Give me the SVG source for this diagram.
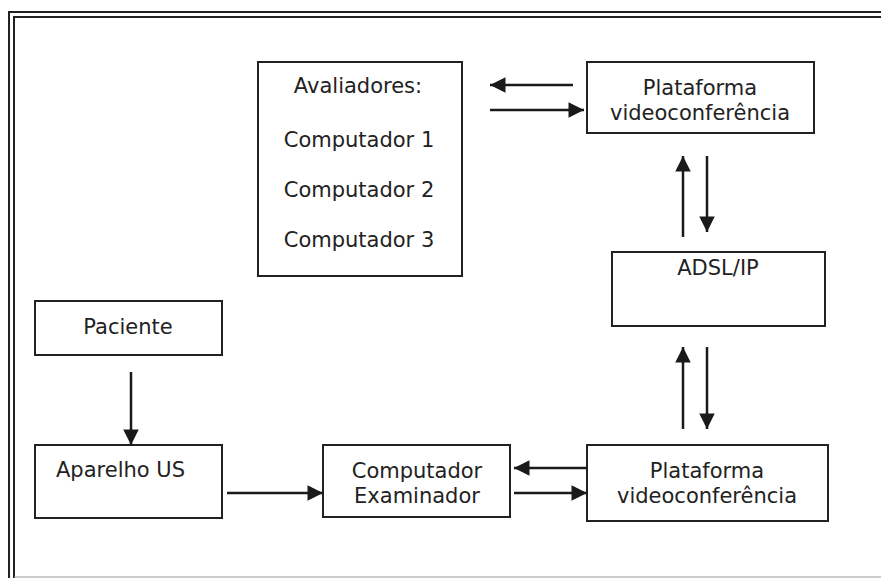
<svg xmlns="http://www.w3.org/2000/svg" width="881" height="578" viewBox="0 0 881 578">
<style>
.box{fill:#fff;stroke:#222;stroke-width:2}
.lbl{font-family:"DejaVu Sans",Verdana,sans-serif;font-size:21px;fill:#222;text-anchor:middle}
.frame{fill:none;stroke:#222;stroke-width:2}
.conn line{stroke:#1a1a1a;stroke-width:2.5}
</style>
<defs>
<marker id="ah" viewBox="0 0 10 10" refX="10" refY="5" markerWidth="6.6" markerHeight="6.2" markerUnits="strokeWidth" orient="auto">
<path d="M0,0 L10,5 L0,10 Z" fill="#1a1a1a"/>
</marker>
</defs>
<rect width="881" height="578" fill="#fff"/>
<g id="frame">
<path class="frame" d="M9,578 V12 H881"/>
<path class="frame" d="M14,578 V17 H881"/>
<line x1="14" y1="577" x2="881" y2="577" stroke="#999" stroke-width="1"/>
</g>
<g id="avaliadores">
<rect class="box" x="258" y="62" width="204" height="214"/>
<text class="lbl" x="358" y="93">Avaliadores:</text>
<text class="lbl" x="359" y="147">Computador 1</text>
<text class="lbl" x="359" y="197">Computador 2</text>
<text class="lbl" x="359" y="247">Computador 3</text>
</g>
<g id="plataforma1">
<rect class="box" x="587" y="62" width="227" height="71"/>
<text class="lbl" x="700" y="95">Plataforma</text>
<text class="lbl" x="700" y="120">videoconferência</text>
</g>
<g id="adsl">
<rect class="box" x="612" y="252" width="213" height="74"/>
<text class="lbl" x="718" y="275">ADSL/IP</text>
</g>
<g id="paciente">
<rect class="box" x="35" y="301" width="187" height="54"/>
<text class="lbl" x="128" y="334">Paciente</text>
</g>
<g id="aparelho">
<rect class="box" x="35" y="445" width="187" height="73"/>
<text class="lbl" x="56" y="477" style="text-anchor:start">Aparelho US</text>
</g>
<g id="examinador">
<rect class="box" x="323" y="445" width="187" height="72"/>
<text class="lbl" x="417" y="478">Computador</text>
<text class="lbl" x="417" y="503">Examinador</text>
</g>
<g id="plataforma2">
<rect class="box" x="587" y="445" width="241" height="76"/>
<text class="lbl" x="707" y="478">Plataforma</text>
<text class="lbl" x="707" y="503">videoconferência</text>
</g>
<g class="conn" id="connectors">
<line x1="573" y1="85" x2="490" y2="85" marker-end="url(#ah)"/>
<line x1="490" y1="110" x2="584" y2="110" marker-end="url(#ah)"/>
<line x1="683" y1="237" x2="683" y2="156" marker-end="url(#ah)"/>
<line x1="707" y1="156" x2="707" y2="232" marker-end="url(#ah)"/>
<line x1="683" y1="429" x2="683" y2="347" marker-end="url(#ah)"/>
<line x1="707" y1="347" x2="707" y2="429" marker-end="url(#ah)"/>
<line x1="131" y1="372" x2="131" y2="445" marker-end="url(#ah)"/>
<line x1="227" y1="493" x2="323" y2="493" marker-end="url(#ah)"/>
<line x1="587" y1="468" x2="514" y2="468" marker-end="url(#ah)"/>
<line x1="514" y1="493" x2="587" y2="493" marker-end="url(#ah)"/>
</g>
</svg>
